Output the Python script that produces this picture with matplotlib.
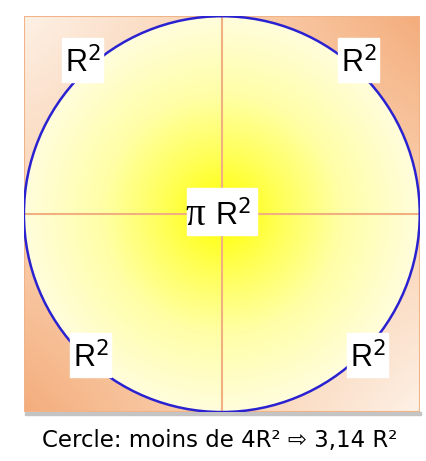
import matplotlib
matplotlib.use("Agg")
import matplotlib.pyplot as plt
import numpy as np
from matplotlib.patches import Circle, Rectangle
from matplotlib.colors import LinearSegmentedColormap

# data
radius = 1.0
corner_labels = ["R$^2$", "R$^2$", "R$^2$", "R$^2$"]
corner_x = [-0.702, 0.692, -0.662, 0.737]
corner_y = [0.717, 0.717, -0.773, -0.773]
center_label = "R$^2$"
caption = "Cercle: moins de 4R² ⇨ 3,14 R²"

fig = plt.figure(figsize=(4.27, 4.61), dpi=100)
ax = fig.add_axes([0.056, 0.104, 0.927, 0.863])
ax.set_xlim(-radius, radius)
ax.set_ylim(-radius, radius)
ax.axis("off")

# square background, light at TL/BR, orange at TR/BL
n = 300
u = np.linspace(-1, 1, n)
X, Y = np.meshgrid(u, u)
bg = X * Y
bg_cmap = LinearSegmentedColormap.from_list("bg", ["#fdf1e6", "#fad2b2", "#f4ad7c"])
ax.imshow(bg, extent=[-1, 1, -1, 1], origin="lower", cmap=bg_cmap,
          vmin=-1, vmax=1, interpolation="bilinear", zorder=0)

# shadow + border of square
ax.add_patch(Rectangle((-0.995, -1.014), 2.0, 0.014, color="#c4c4c4", clip_on=False, zorder=0))
ax.add_patch(Rectangle((-1, -1), 2, 2, fill=False, ec="#f0b488", lw=1.5, zorder=1))

# circle radial gradient
r = np.sqrt(X**2 + Y**2)
circ_cmap = LinearSegmentedColormap.from_list(
    "circ", [(0, "#ffff00"), (0.3, "#ffff58"), (0.6, "#ffffa6"), (1, "#fffddc")])
im = ax.imshow(r, extent=[-1, 1, -1, 1], origin="lower", cmap=circ_cmap,
               vmin=0, vmax=1, interpolation="bilinear", zorder=2)
clip = Circle((0, 0), radius, transform=ax.transData)
im.set_clip_path(clip)

# cross
ax.plot([-1, 1], [0, 0], color="#f0b080", lw=1.5, zorder=3)
ax.plot([0, 0], [-1, 1], color="#f0b080", lw=1.5, zorder=3)

ax.add_patch(Circle((0, 0), radius, fill=False, ec="#2a22d0", lw=1.8, zorder=4))

# white label boxes (baseline-anchored)
def white_box(xc, base, w, h=0.222):
    ax.add_patch(Rectangle((xc - w / 2, base - 0.05), w, h, color="white", zorder=5))

for lab, x, y in zip(corner_labels, corner_x, corner_y):
    white_box(x, y, 0.207)
    ax.text(x, y, lab, fontsize=22, family="Liberation Sans", ha="center", va="baseline",
            zorder=6)

white_box(0.0, -0.056, 0.354, 0.237)
ax.text(0.058, -0.056, center_label, fontsize=22, family="Liberation Sans", ha="center",
        va="baseline", zorder=6)
ax.text(-0.136, -0.056, "π", fontsize=28, family="Liberation Serif", ha="center",
        va="baseline", zorder=6)

fig.text(0.515, 0.045, caption, fontsize=16.5, family="DejaVu Sans", ha="center", va="center")

fig.savefig("out.png", dpi=100)
